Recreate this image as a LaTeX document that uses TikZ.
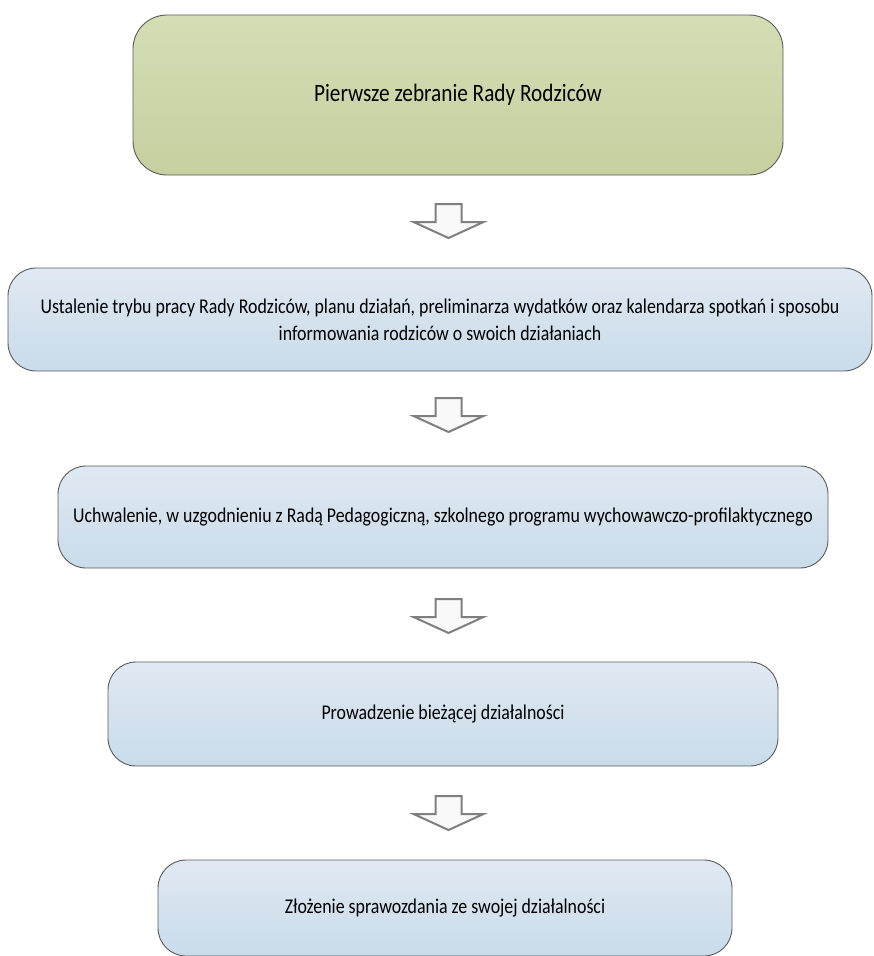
\documentclass[tikz,border=0pt]{standalone}
\usepackage{fontspec}
\setmainfont{Carlito}[FakeStretch=0.85]
\definecolor{greentop}{HTML}{D4DEB6}
\definecolor{greenbot}{HTML}{C5CF9F}
\definecolor{bluetop}{HTML}{E0E9F2}
\definecolor{bluebot}{HTML}{C9DBEA}
\definecolor{edgegray}{HTML}{5A5A5A}
\definecolor{arrowgray}{HTML}{7F7F7F}
\tikzset{
  stepbox/.style={draw=edgegray, line width=0.9pt, rounded corners=28pt,
    top color=bluetop, bottom color=bluebot, align=center,
    font=\fontsize{21}{27}\selectfont, inner sep=0pt},
  firstbox/.style={stepbox, top color=greentop, bottom color=greenbot,
    font=\fontsize{25}{30}\selectfont, rounded corners=34pt},
  downarrow/.style={draw=arrowgray, line width=2pt, fill=white!95!gray, line join=miter}
}
\begin{document}
\begin{tikzpicture}[x=1pt,y=-1pt]
\useasboundingbox (0,0) rectangle (873,956);
\node[firstbox, minimum width=650pt, minimum height=160pt] (b1) at (458,95) {Pierwsze zebranie Rady Rodziców};
\node[stepbox, minimum width=864pt, minimum height=103pt] (b2) at (440,319.5)
  {Ustalenie trybu pracy Rady Rodziców, planu działań, preliminarza wydatków oraz kalendarza spotkań i sposobu\\informowania rodziców o swoich działaniach};
\node[stepbox, minimum width=770pt, minimum height=102pt] (b3) at (443,517)
  {Uchwalenie, w uzgodnieniu z Radą Pedagogiczną, szkolnego programu wychowawczo-profilaktycznego};
\node[stepbox, minimum width=670pt, minimum height=104pt] (b4) at (443,714)
  {Prowadzenie bieżącej działalności};
\node[stepbox, minimum width=574pt, minimum height=96pt] (b5) at (445,908)
  {Złożenie sprawozdania ze swojej działalności};
% arrows
\foreach \n/\t in {a1/204, a2/398, a3/599, a4/796}{
  \coordinate (\n) at (448,\t);
  \draw[downarrow] ([xshift=-12.5pt]\n) -- ++(0,18) -- ++(-22,0) -- ++(35,16) -- ++(35,-16) -- ++(-22,0) -- ++(0,-18) -- cycle;
}
\end{tikzpicture}
\end{document}
